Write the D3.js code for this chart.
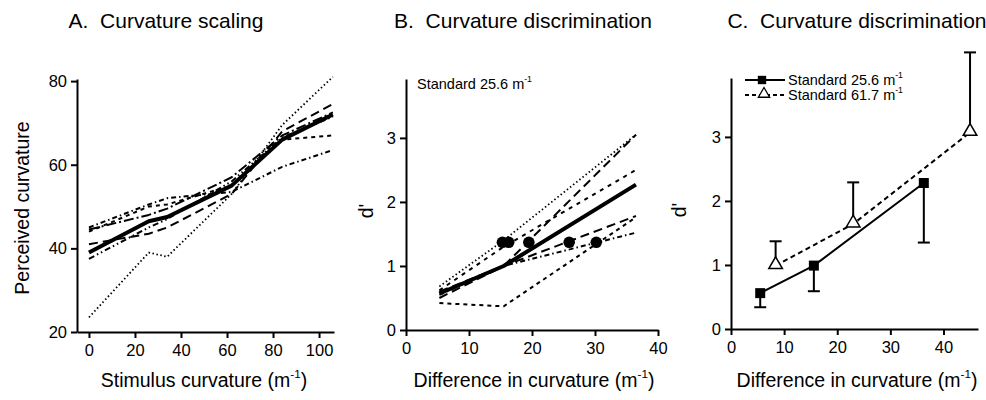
<!DOCTYPE html>
<html><head><meta charset="utf-8">
<script src="https://cdn.jsdelivr.net/npm/d3@7"></script>
<style>
html,body{margin:0;padding:0;background:#fff;}
svg{display:block;font-family:"Liberation Sans",Arial,Helvetica,sans-serif;}
text{white-space:pre;}
</style></head>
<body>
<svg id="c" width="986" height="400"></svg>
<script>
// ---------- Panel A data ----------
const aStimulus = [0, 26, 34, 62, 84, 106];
const aDotted      = [23.5, 39, 38, 53, 69.5, 81];
const aLongDash    = [41, 43.5, 45, 53, 68, 74.5];
const aShortDash   = [44, 50, 50.5, 55, 66, 67];
const aDashDot     = [45, 50.5, 52, 53.5, 59.5, 63.5];
const aLongDashDot = [44.5, 48, 49.5, 57, 67, 72.5];
const aDashDotDot  = [37.5, 45, 47, 56, 66.5, 71.5];
const aMean        = [39, 46.5, 47.5, 55, 66, 72];
const aXTicks = [0, 20, 40, 60, 80, 100];
const aYTicks = [20, 40, 60, 80];

// ---------- Panel B data ----------
const bDiff = [5.3, 15.5, 36.5];
const bDotted    = [0.68, 1.4, 3.05];
const bLongDash  = [0.6, 1.0, 3.05];
const bShortDash = [0.62, 1.3, 2.5];
const bMean      = [0.57, 1.0, 2.27];
const bLongDash2 = [0.5, 1.0, 1.78];
const bDashDot   = [0.55, 1.0, 1.52];
const bBottom    = [0.42, 0.37, 1.76];
const bThreshX = [15.3, 16.3, 19.5, 25.9, 30.2];
const bThreshD = 1.37;
const bXTicks = [0, 10, 20, 30, 40];
const bYTicks = [0, 1, 2, 3];

// ---------- Panel C data ----------
const cDiff1 = [5.5, 15.6, 36.3];
const cD1    = [0.56, 0.99, 2.28];
const cErr1  = [0.34, 0.59, 1.35];   // lower end of error bar
const cDiff2 = [8.4, 23.0, 45.0];
const cD2    = [0.99, 1.64, 3.07];
const cErr2  = [1.37, 2.29, 4.32];   // upper end of error bar
const cXTicks = [0, 10, 20, 30, 40];
const cYTicks = [0, 1, 2, 3];

const svg = d3.select("#c");
const TITLE = 21, LABEL = 19.5, TICK = 16.5, SMALL = 14.5;

function superLabel(g, x, y, pre, sup, post, size, anchor) {
  const t = g.append("text").attr("x", x).attr("y", y)
    .attr("text-anchor", anchor || "middle").attr("font-size", size).attr("fill", "#000");
  t.append("tspan").text(pre);
  t.append("tspan").attr("dy", -size * 0.45).attr("font-size", size * 0.6).text(sup);
  t.append("tspan").attr("dy", size * 0.45).text(post);
  return t;
}

function drawAxes(x, y, xTicks, yTicks) {
  const gx = svg.append("g").attr("transform", `translate(0,${y.range()[0]})`)
    .call(d3.axisBottom(x).tickValues(xTicks).tickSize(6).tickSizeOuter(0).tickPadding(6));
  const gy = svg.append("g").attr("transform", `translate(${x.range()[0]},0)`)
    .call(d3.axisLeft(y).tickValues(yTicks).tickSize(6).tickSizeOuter(0).tickPadding(4).tickFormat(d3.format("d")));
  [gx, gy].forEach(g => {
    g.select(".domain").attr("stroke", "#000").attr("stroke-width", 2);
    g.selectAll(".tick line").attr("stroke", "#000").attr("stroke-width", 2);
    g.selectAll(".tick text").attr("font-size", TICK).attr("fill", "#000")
      .attr("font-family", "'Liberation Sans',Arial,sans-serif");
  });
}

function drawLine(x, y, xs, ys, dash, width) {
  svg.append("path")
    .datum(xs.map((v, i) => [v, ys[i]]))
    .attr("fill", "none").attr("stroke", "#000")
    .attr("stroke-width", width)
    .attr("stroke-dasharray", dash)
    .attr("stroke-linejoin", "round")
    .attr("d", d3.line().x(d => x(d[0])).y(d => y(d[1])));
}

// ================= Panel A =================
{
  const x = d3.scaleLinear().domain([-5.2, 106.5]).range([77, 334]);
  const y = d3.scaleLinear().domain([20, 80.5]).range([332, 79]);
  drawAxes(x, y, aXTicks, aYTicks);
  drawLine(x, y, aStimulus, aDotted, "1.5,2.5", 1.8);
  drawLine(x, y, aStimulus, aLongDash, "9,5", 2);
  drawLine(x, y, aStimulus, aShortDash, "4,4", 2);
  drawLine(x, y, aStimulus, aDashDot, "5,3,1.5,3", 2);
  drawLine(x, y, aStimulus, aLongDashDot, "10,3,2,3", 2);
  drawLine(x, y, aStimulus, aDashDotDot, "6,3,1.5,3,1.5,3", 2);
  drawLine(x, y, aStimulus, aMean, null, 4);
  svg.append("text").attr("x", 166).attr("y", 28).attr("text-anchor", "middle")
    .attr("font-size", TITLE).text("A.  Curvature scaling");
  svg.append("text").attr("transform", "translate(29,208) rotate(-90)")
    .attr("text-anchor", "middle").attr("font-size", LABEL).text("Perceived curvature");
  superLabel(svg, 204, 387, "Stimulus curvature (m", "-1", ")", LABEL);
}

// ================= Panel B =================
{
  const x = d3.scaleLinear().domain([0, 40]).range([406, 658]);
  const y = d3.scaleLinear().domain([0, 3.92]).range([330, 79]);
  drawAxes(x, y, bXTicks, bYTicks);
  drawLine(x, y, bDiff, bDotted, "1.5,2.5", 1.8);
  drawLine(x, y, bDiff, bLongDash, "9,5", 2);
  drawLine(x, y, bDiff, bShortDash, "4,5", 2);
  drawLine(x, y, bDiff, bLongDash2, "9,5", 2);
  drawLine(x, y, bDiff, bDashDot, "5,3,1.5,3", 2);
  drawLine(x, y, bDiff, bBottom, "4,4", 2);
  drawLine(x, y, bDiff, bMean, null, 4);
  svg.append("g").selectAll("circle").data(bThreshX).join("circle")
    .attr("cx", d => x(d)).attr("cy", y(bThreshD)).attr("r", 5.8).attr("fill", "#000");
  superLabel(svg, 417, 89, "Standard 25.6 m", "-1", "", SMALL, "start");
  svg.append("text").attr("x", 523).attr("y", 28).attr("text-anchor", "middle")
    .attr("font-size", TITLE).text("B.  Curvature discrimination");
  svg.append("text").attr("transform", "translate(373,211) rotate(-90)")
    .attr("text-anchor", "middle").attr("font-size", LABEL).text("d'");
  superLabel(svg, 534, 387, "Difference in curvature (m", "-1", ")", LABEL);
}

// ================= Panel C =================
{
  const x = d3.scaleLinear().domain([0, 46.5]).range([731, 978]);
  const y = d3.scaleLinear().domain([0, 3.92]).range([329, 78]);
  drawAxes(x, y, cXTicks, cYTicks);
  const cap = 6;
  cDiff1.forEach((v, i) => {
    svg.append("line").attr("x1", x(v)).attr("x2", x(v)).attr("y1", y(cD1[i])).attr("y2", y(cErr1[i]))
      .attr("stroke", "#000").attr("stroke-width", 2);
    svg.append("line").attr("x1", x(v) - cap).attr("x2", x(v) + cap).attr("y1", y(cErr1[i])).attr("y2", y(cErr1[i]))
      .attr("stroke", "#000").attr("stroke-width", 2);
  });
  cDiff2.forEach((v, i) => {
    svg.append("line").attr("x1", x(v)).attr("x2", x(v)).attr("y1", y(cD2[i])).attr("y2", y(cErr2[i]))
      .attr("stroke", "#000").attr("stroke-width", 2);
    svg.append("line").attr("x1", x(v) - cap).attr("x2", x(v) + cap).attr("y1", y(cErr2[i])).attr("y2", y(cErr2[i]))
      .attr("stroke", "#000").attr("stroke-width", 2);
  });
  drawLine(x, y, cDiff2, cD2, "5,3.5", 2);
  drawLine(x, y, cDiff1, cD1, null, 2);
  const sq = d3.symbol().type(d3.symbolSquare).size(100);
  const tri = d3.symbol().type(d3.symbolTriangle).size(80);
  cDiff1.forEach((v, i) => {
    svg.append("path").attr("d", sq).attr("transform", `translate(${x(v)},${y(cD1[i])})`).attr("fill", "#000");
  });
  cDiff2.forEach((v, i) => {
    svg.append("path").attr("d", tri).attr("transform", `translate(${x(v)},${y(cD2[i]) - 1})`)
      .attr("fill", "#fff").attr("stroke", "#000").attr("stroke-width", 1.5);
  });
  // legend
  svg.append("line").attr("x1", 745).attr("x2", 785).attr("y1", 80).attr("y2", 80).attr("stroke", "#000").attr("stroke-width", 2);
  svg.append("path").attr("d", d3.symbol().type(d3.symbolSquare).size(70)).attr("transform", "translate(762,80)");
  svg.append("line").attr("x1", 745).attr("x2", 785).attr("y1", 95).attr("y2", 95).attr("stroke", "#000").attr("stroke-width", 2).attr("stroke-dasharray", "4,3");
  svg.append("path").attr("d", d3.symbol().type(d3.symbolTriangle).size(55)).attr("transform", "translate(764,94)")
    .attr("fill", "#fff").attr("stroke", "#000").attr("stroke-width", 1.3);
  superLabel(svg, 788, 85, "Standard 25.6 m", "-1", "", SMALL, "start");
  superLabel(svg, 788, 100, "Standard 61.7 m", "-1", "", SMALL, "start");
  svg.append("text").attr("x", 857).attr("y", 28).attr("text-anchor", "middle")
    .attr("font-size", TITLE).text("C.  Curvature discrimination");
  svg.append("text").attr("transform", "translate(686,210) rotate(-90)")
    .attr("text-anchor", "middle").attr("font-size", LABEL).text("d'");
  superLabel(svg, 857, 387, "Difference in curvature (m", "-1", ")", LABEL);
}
</script>
</body></html>
